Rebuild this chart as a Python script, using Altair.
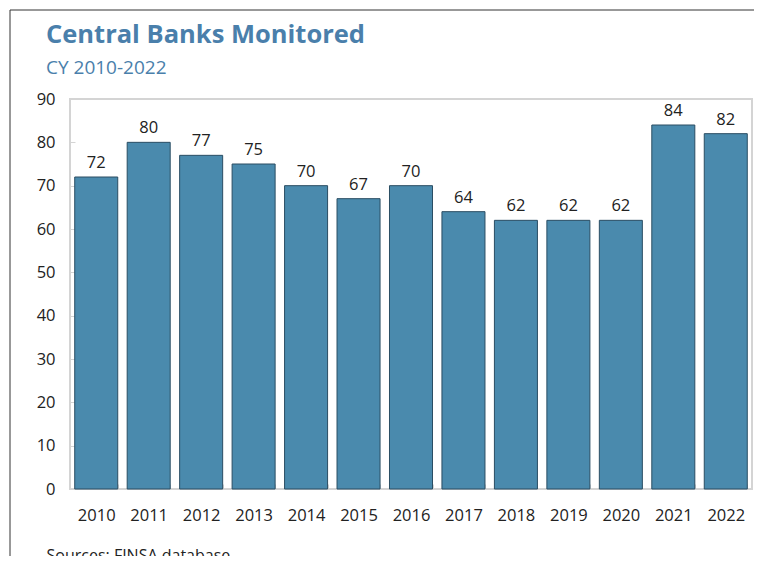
import altair as alt
import pandas as pd

years = ["2010", "2011", "2012", "2013", "2014", "2015", "2016",
         "2017", "2018", "2019", "2020", "2021", "2022"]
banks = [72, 80, 77, 75, 70, 67, 70, 64, 62, 62, 62, 84, 82]
y_ticks = [0, 10, 20, 30, 40, 50, 60, 70, 80, 90]
title_text = ["Central Banks Monitored"]
subtitle_text = ["CY 2010-2022"]

df = pd.DataFrame({"year": years, "banks": banks})
title_df = pd.DataFrame({"t": title_text})
subtitle_df = pd.DataFrame({"t": subtitle_text})

FONT = "Open Sans"
GRID = "#d4d4d4"
TITLE_COLOR = "#4a7fab"

x_enc = alt.X(
    "year:N",
    sort=years,
    scale=alt.Scale(paddingInner=0.18, paddingOuter=0.09),
    axis=alt.Axis(
        title="Sources: FINSA database",
        titleX=-24, titleY=76, titleAlign="left", titleBaseline="alphabetic",
        titleFont=FONT, titleFontSize=16, titleFontWeight="normal", titleColor="#222222",
        labelAngle=0, labelFont=FONT, labelFontSize=16.5, labelColor="#222222",
        labelPadding=18, domain=False, offset=-5, tickSize=5, tickColor=GRID,
        tickBand="extent", tickWidth=1,
    ),
)
y_enc = alt.Y(
    "banks:Q",
    scale=alt.Scale(domain=[0, 90], nice=False),
    axis=alt.Axis(
        title=None, values=y_ticks, labelFont=FONT, labelFontSize=16.5,
        labelColor="#222222", labelPadding=15, domain=False, offset=-5,
        tickSize=5, tickColor=GRID, grid=False,
    ),
)

bars = alt.Chart(df).mark_bar(
    color="#4a8aad", stroke="#2a4d63", strokeWidth=1
).encode(x=x_enc, y=y_enc)

labels = alt.Chart(df).mark_text(
    baseline="bottom", dy=-6, font=FONT, fontSize=16.5, color="#222222"
).encode(x=alt.X("year:N", sort=years), y="banks:Q", text="banks:Q")

title = alt.Chart(title_df).mark_text(
    align="left", baseline="alphabetic", font=FONT, fontSize=25.5,
    fontWeight="bold", color=TITLE_COLOR
).encode(x=alt.value(-24), y=alt.value(-56), text="t:N")

subtitle = alt.Chart(subtitle_df).mark_text(
    align="left", baseline="alphabetic", font=FONT, fontSize=19,
    color=TITLE_COLOR
).encode(x=alt.value(-24), y=alt.value(-25), text="t:N")

frame_top = alt.Chart(title_df).mark_rule(color="#333333", strokeWidth=1).encode(
    x=alt.value(-60), x2=alt.value(720), y=alt.value(-89)
)
frame_left = alt.Chart(title_df).mark_rule(color="#333333", strokeWidth=1).encode(
    x=alt.value(-60), y=alt.value(-89), y2=alt.value(480)
)

chart = alt.layer(frame_top, frame_left, bars, labels, title, subtitle).properties(
    width=682,
    height=390,
    autosize=alt.AutoSizeParams(type="none"),
    padding={"left": 62, "top": 91, "right": 2, "bottom": 67},
).configure_view(stroke=GRID, strokeWidth=2)

chart.save("out.html", embed_options={"renderer": "svg", "actions": False})
